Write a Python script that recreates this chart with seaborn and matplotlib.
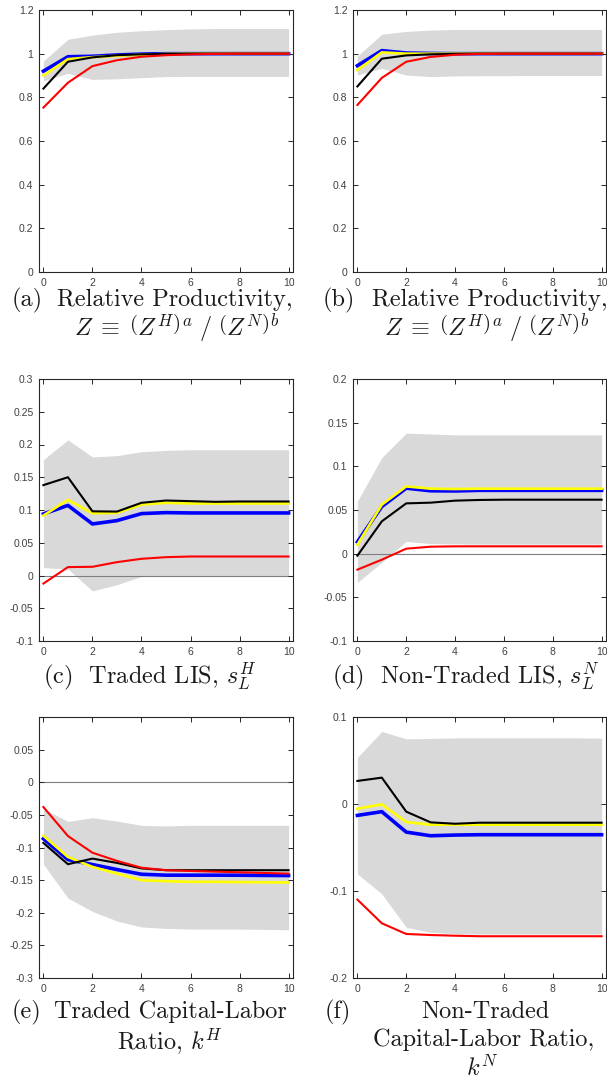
import matplotlib
matplotlib.use('Agg')
import matplotlib.pyplot as plt
import seaborn as sns
from matplotlib.ticker import FuncFormatter

# horizon (years after shock)
steps = list(range(11))

# (a) relative productivity, traded vs non-traded
a_hi = [0.966, 1.066, 1.085, 1.098, 1.105, 1.110, 1.113, 1.115, 1.115, 1.115, 1.115]
a_lo = [0.875, 0.910, 0.882, 0.885, 0.890, 0.895, 0.896, 0.896, 0.896, 0.896, 0.896]
a_blue = [0.920, 0.986, 0.988, 0.994, 0.998, 1.000, 1.000, 1.000, 1.000, 1.000, 1.000]
a_yellow = [0.900, 0.975, 0.984, 0.990, 0.995, 0.999, 1.000, 1.000, 1.000, 1.000, 1.000]
a_black = [0.840, 0.963, 0.983, 0.993, 0.997, 0.999, 1.000, 1.000, 1.000, 1.000, 1.000]
a_red = [0.753, 0.867, 0.943, 0.970, 0.986, 0.993, 0.997, 0.999, 1.000, 1.000, 1.000]

# (b) relative productivity, second specification
b_hi = [0.989, 1.089, 1.102, 1.108, 1.111, 1.111, 1.111, 1.111, 1.111, 1.111, 1.111]
b_lo = [0.902, 0.933, 0.902, 0.895, 0.898, 0.899, 0.899, 0.900, 0.900, 0.900, 0.900]
b_blue = [0.945, 1.014, 1.003, 1.001, 1.000, 1.000, 1.000, 1.000, 1.000, 1.000, 1.000]
b_yellow = [0.925, 1.006, 1.000, 1.000, 1.000, 1.000, 1.000, 1.000, 1.000, 1.000, 1.000]
b_black = [0.850, 0.977, 0.992, 0.997, 0.999, 1.000, 1.000, 1.000, 1.000, 1.000, 1.000]
b_red = [0.765, 0.889, 0.963, 0.985, 0.995, 0.999, 1.000, 1.000, 1.000, 1.000, 1.000]

# (c) traded LIS
c_hi = [0.177, 0.207, 0.181, 0.183, 0.189, 0.191, 0.192, 0.192, 0.192, 0.192, 0.192]
c_lo = [0.012, 0.010, -0.0235, -0.014, -0.0015, -0.001, -0.001, -0.001, -0.001, -0.001, -0.001]
c_blue = [0.094, 0.107, 0.0787, 0.0838, 0.0945, 0.096, 0.0955, 0.0955, 0.0955, 0.0955, 0.0955]
c_yellow = [0.0915, 0.1155, 0.095, 0.0956, 0.1083, 0.111, 0.110, 0.110, 0.110, 0.110, 0.110]
c_black = [0.138, 0.150, 0.098, 0.0976, 0.111, 0.1145, 0.1135, 0.1125, 0.113, 0.113, 0.113]
c_red = [-0.0123, 0.0128, 0.0133, 0.0204, 0.0255, 0.028, 0.029, 0.029, 0.029, 0.029, 0.029]

# (d) non-traded LIS
d_hi = [0.060, 0.110, 0.138, 0.137, 0.136, 0.136, 0.136, 0.136, 0.136, 0.136, 0.136]
d_lo = [-0.033, -0.010, 0.014, 0.0115, 0.0112, 0.011, 0.011, 0.011, 0.011, 0.011, 0.011]
d_blue = [0.0134, 0.054, 0.075, 0.072, 0.0718, 0.0725, 0.0725, 0.0725, 0.0725, 0.0725, 0.0725]
d_yellow = [0.0103, 0.0561, 0.077, 0.0744, 0.074, 0.0744, 0.0744, 0.0744, 0.0744, 0.0744, 0.0744]
d_black = [-0.0023, 0.037, 0.0576, 0.0584, 0.0607, 0.0615, 0.0618, 0.0618, 0.0618, 0.0618, 0.0618]
d_red = [-0.0183, -0.0069, 0.0057, 0.008, 0.0084, 0.0084, 0.0084, 0.0084, 0.0084, 0.0084, 0.0084]

# (e) traded capital-labor ratio
e_hi = [-0.0407, -0.060, -0.0544, -0.0595, -0.066, -0.067, -0.066, -0.066, -0.066, -0.066, -0.066]
e_lo = [-0.1256, -0.1775, -0.198, -0.2126, -0.2218, -0.224, -0.225, -0.225, -0.225, -0.2255, -0.226]
e_blue = [-0.0865, -0.1185, -0.1261, -0.1338, -0.141, -0.1424, -0.1424, -0.1424, -0.1425, -0.1428, -0.143]
e_yellow = [-0.082, -0.1145, -0.1297, -0.140, -0.150, -0.1516, -0.1526, -0.1526, -0.153, -0.1533, -0.1536]
e_black = [-0.093, -0.1256, -0.117, -0.1236, -0.132, -0.1348, -0.1348, -0.1348, -0.1348, -0.1348, -0.1348]
e_red = [-0.038, -0.0824, -0.108, -0.1205, -0.131, -0.1348, -0.136, -0.137, -0.138, -0.139, -0.140]

# (f) non-traded capital-labor ratio
f_hi = [0.0534, 0.0834, 0.0749, 0.0753, 0.076, 0.076, 0.076, 0.076, 0.076, 0.076, 0.0757]
f_lo = [-0.0803, -0.1033, -0.1418, -0.1475, -0.149, -0.1495, -0.1495, -0.1495, -0.1495, -0.1495, -0.1495]
f_blue = [-0.0131, -0.0088, -0.0323, -0.0365, -0.0357, -0.0353, -0.0353, -0.0353, -0.0353, -0.0353, -0.0353]
f_yellow = [-0.0054, -0.0004, -0.0207, -0.0238, -0.0238, -0.0238, -0.0238, -0.0238, -0.0238, -0.0238, -0.0238]
f_black = [0.0265, 0.0303, -0.0088, -0.0211, -0.0227, -0.0215, -0.0215, -0.0215, -0.0215, -0.0215, -0.0215]
f_red = [-0.1099, -0.1371, -0.1494, -0.1506, -0.1514, -0.152, -0.152, -0.152, -0.152, -0.152, -0.152]

plt.rcParams['mathtext.fontset'] = 'cm'

W, H = 607, 1081
fig = plt.figure(figsize=(W / 100, H / 100), dpi=100)

# pixel boxes: (left, right, top, bottom)
cols = [(39, 293), (353, 606)]
rows = [(10, 272), (379, 641), (717, 978)]

panels = [
    (a_hi, a_lo, a_blue, a_yellow, a_black, a_red, (0, 1.2), [0, 0.2, 0.4, 0.6, 0.8, 1, 1.2], False),
    (b_hi, b_lo, b_blue, b_yellow, b_black, b_red, (0, 1.2), [0, 0.2, 0.4, 0.6, 0.8, 1, 1.2], False),
    (c_hi, c_lo, c_blue, c_yellow, c_black, c_red, (-0.1, 0.3),
     [-0.1, -0.05, 0, 0.05, 0.1, 0.15, 0.2, 0.25, 0.3], True),
    (d_hi, d_lo, d_blue, d_yellow, d_black, d_red, (-0.1, 0.2),
     [-0.1, -0.05, 0, 0.05, 0.1, 0.15, 0.2], True),
    (e_hi, e_lo, e_blue, e_yellow, e_black, e_red, (-0.3, 0.1),
     [-0.3, -0.25, -0.2, -0.15, -0.1, -0.05, 0, 0.05], True),
    (f_hi, f_lo, f_blue, f_yellow, f_black, f_red, (-0.2, 0.1), [-0.2, -0.1, 0, 0.1], False),
]

tick_font = ['Liberation Sans Narrow', 'Liberation Sans', 'DejaVu Sans']
axis_col = '#262626'

for i, (hi, lo, blue, yellow, black, red, ylim, yticks, zero) in enumerate(panels):
    l, r = cols[i % 2]
    t, b = rows[i // 2]
    ax = fig.add_axes([l / W, 1 - b / H, (r - l) / W, (b - t) / H])
    ax.fill_between(steps, lo, hi, color='#d9d9d9', linewidth=0, zorder=1)
    if zero:
        ax.axhline(0, color='#7f7f7f', linewidth=0.8, zorder=1.5)
    sns.lineplot(x=steps, y=blue, color='#0000ff', linewidth=2.6, ax=ax, zorder=2)
    sns.lineplot(x=steps, y=yellow, color='#ffff00', linewidth=1.9, ax=ax, zorder=3)
    sns.lineplot(x=steps, y=black, color='black', linewidth=1.5, ax=ax, zorder=4)
    sns.lineplot(x=steps, y=red, color='#ff0000', linewidth=1.5, ax=ax, zorder=5)
    ax.set_xlim(-0.18, 10.18)
    ax.set_ylim(*ylim)
    ax.set_xticks([0, 2, 4, 6, 8, 10])
    ax.set_yticks(yticks)
    ax.yaxis.set_major_formatter(FuncFormatter(lambda v, _: f'{round(v, 4):g}'))
    ax.tick_params(direction='in', length=3.5, width=0.7, top=True, right=True,
                   colors=axis_col, labelcolor='#404040', labelsize=7.5, pad=4)
    for lab in ax.get_xticklabels() + ax.get_yticklabels():
        lab.set_family(tick_font)
    for s in ax.spines.values():
        s.set_color(axis_col)
        s.set_linewidth(0.8)
    ax.set_xlabel('')
    ax.set_ylabel('')
    ax.set_facecolor('white')


def put(x, y, s, ha='center'):
    fig.text(x / W, 1 - y / H, s, ha=ha, va='center', fontsize=17.5,
             family='cmr10', color='#1a1a1a')


zh = r'$Z \;\equiv\; \left(Z^{H}\right)^{a}\ /\ \left(Z^{N}\right)^{b}$'
put(12, 300, '(a)', ha='left')
put(175, 300, 'Relative Productivity,')
put(177, 328, zh)
put(323, 300, '(b)', ha='left')
put(490, 300, 'Relative Productivity,')
put(487, 328, zh)

put(150, 676, r'(c)  Traded LIS, $s_L^H$')
put(466, 676, r'(d)  Non-Traded LIS, $s_L^N$')

put(12, 1012, '(e)', ha='left')
put(170, 1012, 'Traded Capital-Labor')
put(170, 1041, r'Ratio, $k^H$')
put(325, 1012, '(f)', ha='left')
put(485, 1012, 'Non-Traded')
put(484, 1040, 'Capital-Labor Ratio,')
put(482, 1068, r'$k^N$')

fig.savefig('out.png', dpi=100, facecolor='white')
